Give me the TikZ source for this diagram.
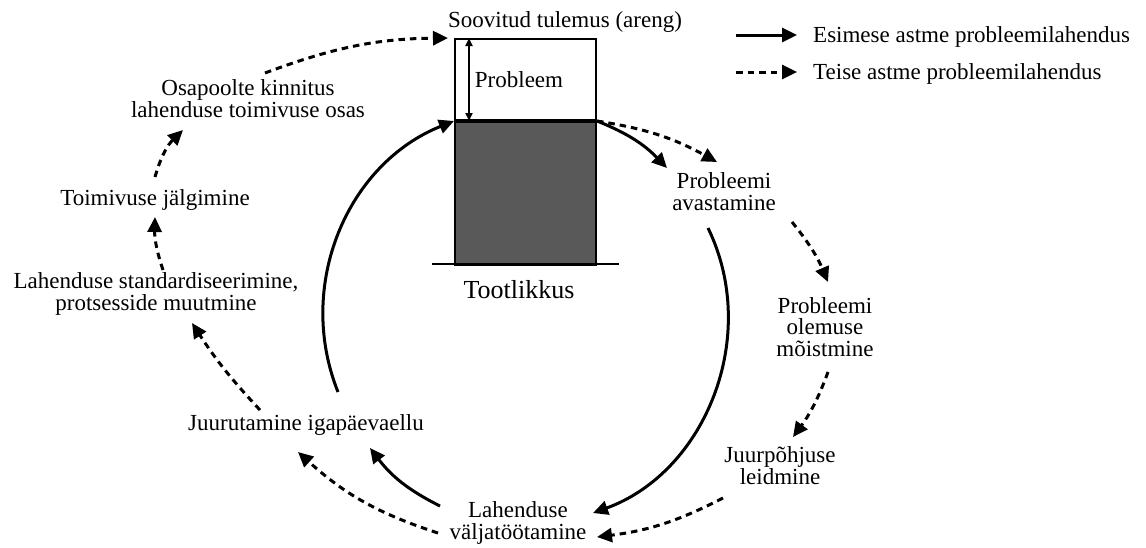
\documentclass[tikz,border=0pt]{standalone}
\usepackage{fontspec}
\setmainfont{Liberation Serif}
\usetikzlibrary{arrows.meta}
\definecolor{bargray}{HTML}{595959}
\begin{document}
\begin{tikzpicture}[x=1pt,y=-1pt,
  lbl/.style={font=\fontsize{23}{21.5}\selectfont, align=center, inner sep=0pt},
  solidarrow/.style={line width=3pt, -{Triangle[length=15pt,width=14pt]}},
  dasharrow/.style={solidarrow, dash pattern=on 6.5pt off 5pt},
  boxline/.style={draw, line width=2pt, inner sep=0pt, anchor=north west}]
\useasboundingbox (0,0) rectangle (1146,547);

% bar
\node[boxline, fill=white, minimum width=141pt, minimum height=83pt] (goal) at (454,38) {};
\node[boxline, fill=bargray, minimum width=141pt, minimum height=143pt] (prod) at (454,121) {};
\draw[line width=3.5pt] (prod.north west) -- (prod.north east);
\coordinate (g1) at (432,264);
\coordinate (g2) at (619,264);
\draw[line width=2.5pt] (g1) -- (g2);
\coordinate (pa) at (469,38);
\coordinate (pb) at (469,121);
\draw[line width=1.8pt, {Triangle[length=8pt,width=7pt]}-{Triangle[length=8pt,width=7pt]}] (pa) -- (pb);

% texts (base = baseline of last line)
\node[lbl, anchor=base] (goaltxt) at (565,27) {Soovitud tulemus (areng)};
\node[lbl, anchor=base] (probtxt) at (519,87) {Probleem};
\node[lbl, font=\fontsize{26}{28}\selectfont, anchor=base] (tootl) at (519,298) {Tootlikkus};
\node[lbl, anchor=base] (osa) at (248,117) {Osapoolte kinnitus\\lahenduse toimivuse osas};
\node[lbl, anchor=base] (toim) at (155,205) {Toimivuse jälgimine};
\node[lbl, anchor=base] (stand) at (156,310) {Lahenduse standardiseerimine,\\protsesside muutmine};
\node[lbl, anchor=base] (juur) at (306,430) {Juurutamine igapäevaellu};
\node[lbl, anchor=base] (lah) at (518,539) {Lahenduse\\väljatöötamine};
\node[lbl, anchor=base] (avast) at (724,210) {Probleemi\\avastamine};
\node[lbl, anchor=base] (olem) at (825,356) {Probleemi\\olemuse\\mõistmine};
\node[lbl, anchor=base] (juurp) at (780,484) {Juurpõhjuse\\leidmine};

% legend
\coordinate (l1a) at (736,35);
\coordinate (l1b) at (797,35);
\coordinate (l2a) at (736,72);
\coordinate (l2b) at (797,72);
\draw[solidarrow] (l1a) -- (l1b);
\draw[dasharrow] (l2a) -- (l2b);
\node[lbl, anchor=base west] (leg1) at (813,42) {Esimese astme probleemilahendus};
\node[lbl, anchor=base west] (leg2) at (813,79) {Teise astme probleemilahendus};

% solid cycle
\coordinate (s1e) at (667,168);
\coordinate (s2a) at (708,228);
\coordinate (s2e) at (593,513);
\coordinate (s3a) at (440,506);
\coordinate (s3e) at (370,448);
\coordinate (s4a) at (338,392);
\draw[solidarrow] (prod.north east) to[bend left=12] (s1e);
\draw[solidarrow] (s2a) to[bend left=48] (s2e);
\draw[solidarrow] (s3a) to[bend left=13] (s3e);
\draw[solidarrow] (s4a) to[bend left=45] (prod.north west);

% dashed cycle
\coordinate (da1) at (265,73);
\coordinate (db1) at (155,177);
\coordinate (db2) at (183,130);
\coordinate (dc1) at (163,270);
\coordinate (dc2) at (155,217);
\coordinate (dd1) at (260,410);
\coordinate (dd2) at (192,323);
\coordinate (de1) at (438,533);
\coordinate (de2) at (298,452);
\coordinate (df1) at (723,498);
\coordinate (df2) at (597,537);
\coordinate (dg1) at (828,372);
\coordinate (dg2) at (793,437);
\coordinate (dh1) at (792,222);
\coordinate (dh2) at (828,282);
\coordinate (di2) at (717,162);
\draw[dasharrow, shorten >=6pt] (da1) to[bend left=10] (goal.north west);
\draw[dasharrow] (db1) to[bend left=15] (db2);
\draw[dasharrow] (dc1) to[bend left=10] (dc2);
\draw[dasharrow] (dd1) to[bend left=5] (dd2);
\draw[dasharrow] (de1) to[bend left=12] (de2);
\draw[dasharrow] (df1) to[bend left=10] (df2);
\draw[dasharrow] (dg1) to[bend left=8] (dg2);
\draw[dasharrow] (dh1) to[bend left=8] (dh2);
\draw[dasharrow] (prod.north east) to[bend left=10] (di2);
\end{tikzpicture}
\end{document}
